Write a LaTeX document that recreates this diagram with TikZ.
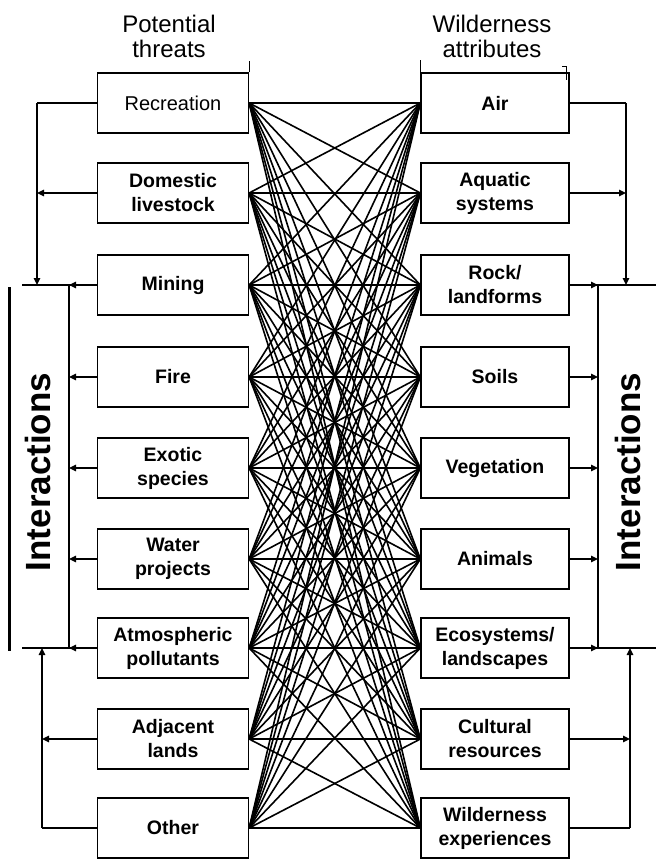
\documentclass[tikz,border=0pt]{standalone}
\usepackage{fontspec}
\setmainfont{Liberation Sans}
\usetikzlibrary{arrows.meta}
\begin{document}
\begin{tikzpicture}[x=1pt,y=-1pt,
  box/.style={draw, line width=1.3pt, minimum width=151pt, minimum height=60pt,
    inner sep=0pt, align=center, font=\fontsize{19.5}{24}\selectfont\bfseries},
  rbox/.style={box, minimum width=148pt},
  link/.style={line width=1.6pt},
  fb/.style={line width=1.3pt},
  arr/.style={fb, -{Triangle[length=7pt,width=6.5pt]}},
  head/.style={anchor=north, inner sep=0pt, align=center, font=\fontsize{24}{25}\selectfont},
  inter/.style={rotate=90, anchor=base, inner sep=0pt, font=\fontsize{35}{35}\selectfont\bfseries}]
\useasboundingbox (0,0) rectangle (656,861);

% headers
\node[head] (h1) at (169,14.5) {Potential\\threats};
\node[head] (h2) at (492,14.5) {Wilderness\\attributes};

% left boxes
\node[box, font=\fontsize{20}{24}\selectfont] (L1) at (173,103) {Recreation};
\node[box] (L2) at (173,193) {Domestic\\livestock};
\node[box] (L3) at (173,285) {Mining};
\node[box] (L4) at (173,377) {Fire};
\node[box] (L5) at (173,468) {Exotic\\species};
\node[box] (L6) at (173,559) {Water\\projects};
\node[box] (L7) at (173,648) {Atmospheric\\pollutants};
\node[box] (L8) at (173,739) {Adjacent\\lands};
\node[box] (L9) at (173,828) {Other};

% right boxes
\node[rbox] (R1) at (495,103) {Air};
\node[rbox] (R2) at (495,193) {Aquatic\\systems};
\node[rbox] (R3) at (495,285) {Rock/\\landforms};
\node[rbox] (R4) at (495,377) {Soils};
\node[rbox] (R5) at (495,468) {Vegetation};
\node[rbox] (R6) at (495,559) {Animals};
\node[rbox] (R7) at (495,648) {Ecosystems/\\landscapes};
\node[rbox] (R8) at (495,739) {Cultural\\resources};
\node[rbox] (R9) at (495,828) {Wilderness\\experiences};

% header ticks
\draw[fb] (L1.north east) -- ++(0,-11);
\draw[fb] (R1.north west) -- ++(0,-12);
\draw[line width=0.6pt] (562,66) -- (566,66) -- (566,80);

% all links
\foreach \i in {1,...,9}
  \foreach \j in {1,...,9}
    \draw[link] (L\i.east) -- (R\j.west);

% left feedback
\coordinate (A1) at (37,103);
\coordinate (A3) at (37,285);
\coordinate (E3) at (22,285);
\coordinate (V3) at (69,285);
\coordinate (V7) at (69,648);
\coordinate (E7) at (22,648);
\coordinate (B7) at (42,648);
\coordinate (B9) at (42,828);
\draw[fb] (L1.west) -- (A1);
\draw[arr] (A1) -- (A3);
\draw[arr] (L2.west) -- (L2.west -| A1);
\draw[fb] (L3.west) -- (E3);
\draw[arr] (L3.west) -- (V3);
\draw[fb] (V3) -- (V7);
\foreach \i in {4,5,6}
  \draw[arr] (L\i.west) -- (L\i.west -| V3);
\draw[fb] (L7.west) -- (E7);
\draw[arr] (L7.west) -- (V7);
\draw[arr] (L8.west) -- (L8.west -| B9);
\draw[fb] (L9.west) -- (B9);
\draw[arr] (B9) -- (B7);

% right feedback
\coordinate (C1) at (626,103);
\coordinate (C3) at (626,285);
\coordinate (F3) at (656,285);
\coordinate (W3) at (598,285);
\coordinate (W7) at (598,648);
\coordinate (F7) at (656,648);
\coordinate (D7) at (630,648);
\coordinate (D9) at (630,828);
\draw[fb] (R1.east) -- (C1);
\draw[arr] (C1) -- (C3);
\draw[arr] (R2.east) -- (R2.east -| C1);
\draw[fb] (R3.east) -- (F3);
\draw[arr] (R3.east) -- (W3);
\draw[fb] (W3) -- (W7);
\foreach \i in {4,5,6}
  \draw[arr] (R\i.east) -- (R\i.east -| W3);
\draw[fb] (R7.east) -- (F7);
\draw[arr] (R7.east) -- (W7);
\draw[arr] (R8.east) -- (R8.east -| D9);
\draw[fb] (R9.east) -- (D9);
\draw[arr] (D9) -- (D7);

% interactions labels
\draw[line width=3pt] (9,287) -- (9,651);
\node[inter] (I1) at (50,472) {Interactions};
\node[inter] (I2) at (640,472) {Interactions};
\end{tikzpicture}
\end{document}
